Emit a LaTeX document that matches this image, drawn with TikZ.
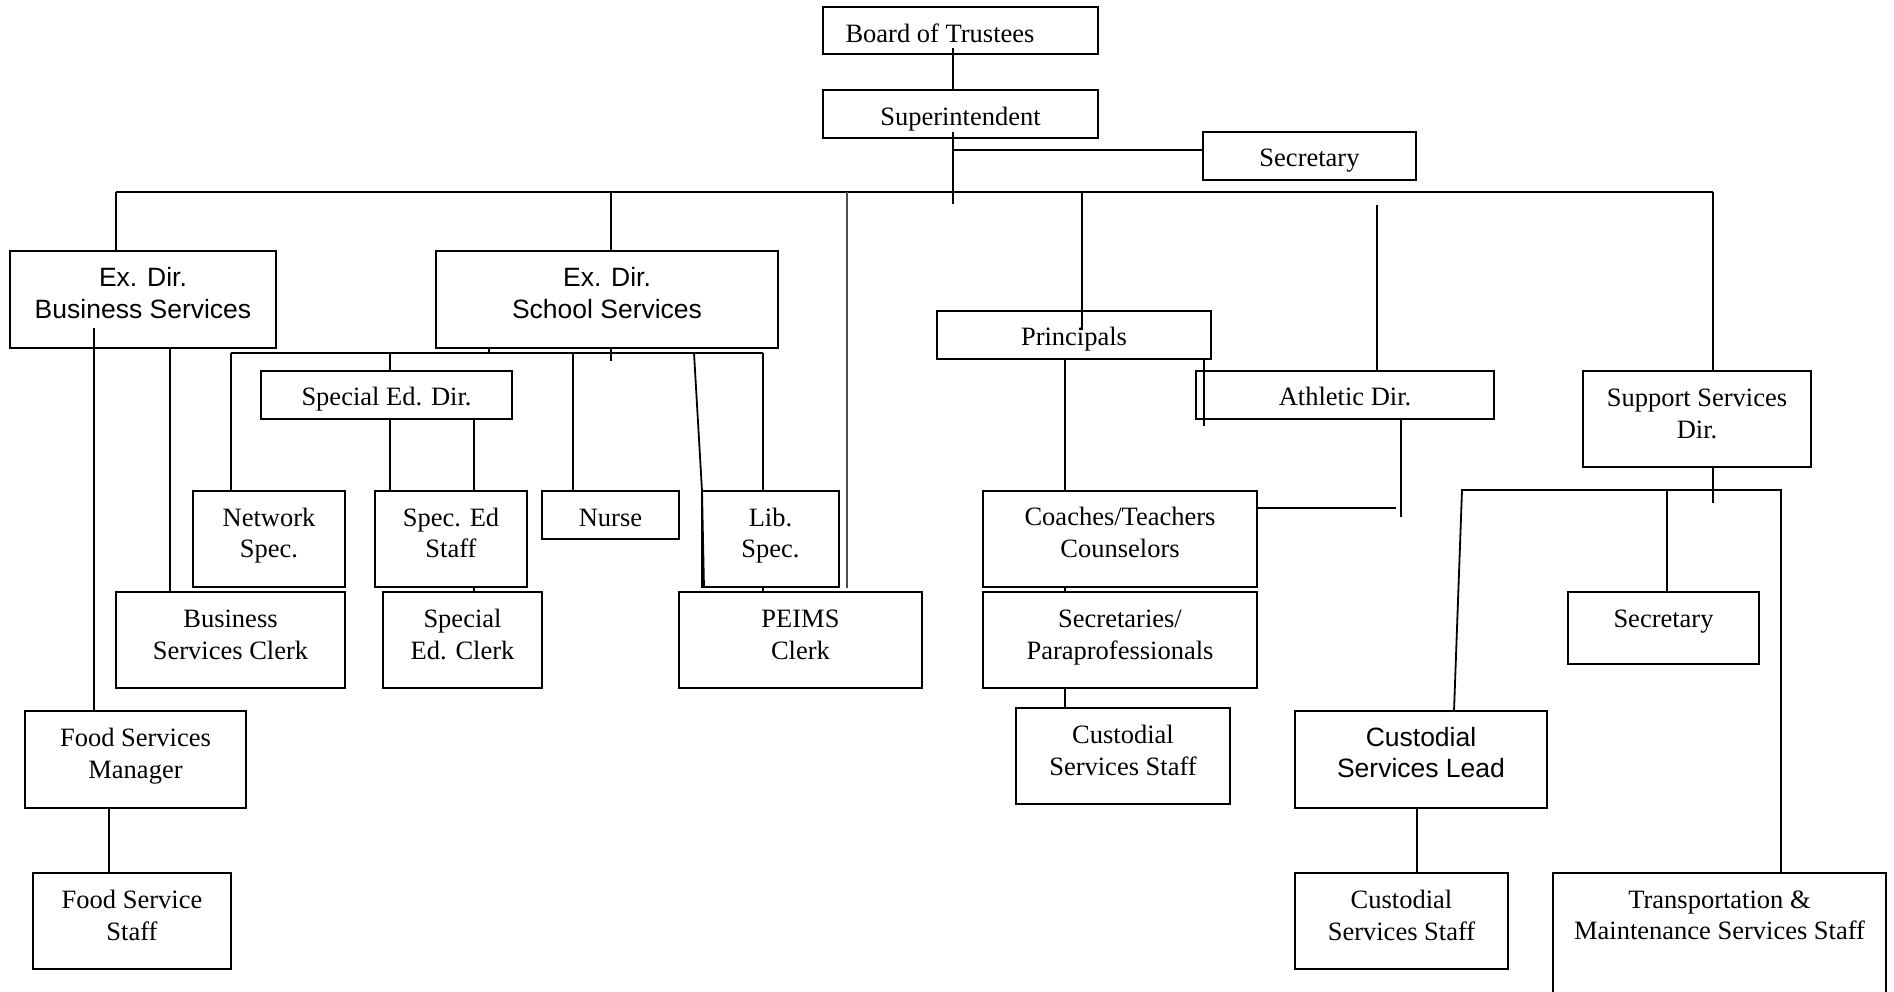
\documentclass[tikz,border=0pt]{standalone}
\usepackage{fontspec}
\setmainfont{Liberation Serif}
\newfontfamily\arialf{Liberation Sans}
\newcommand\tst{\rule{0pt}{24pt}}
\tikzset{
  box/.style={draw, line width=2.2pt, inner sep=0pt, outer sep=0pt, rectangle},
  boxline/.style={line width=2.2pt},
  tx/.style={align=center, inner sep=0pt, outer sep=0pt, anchor=north, font=\fontsize{26.5}{31.5}\selectfont},
  ar/.style={tx, font=\arialf\fontsize{26.5}{31.5}\selectfont},
  conn/.style={line width=1.8pt},
  busline/.style={line width=2.3pt},
  greyline/.style={line width=1.2pt, black!70}
}
\newcommand\bx[5]{\node[box, minimum width={#4-#2}, minimum height={#5-#3}, anchor=north west] (#1) at (#2,#3) {};}
\begin{document}
\begin{tikzpicture}[x=1pt,y=-1pt]
\useasboundingbox (0,0) rectangle (1894,992);
% ---------- boxes ----------
\bx{bot}{823}{7}{1098}{54}
\bx{sup}{823}{90}{1098}{138}
\bx{secA}{1203}{132}{1416}{180}
\bx{exb}{10}{251}{276}{348}
\bx{exs}{436}{251}{778}{348}
\bx{prin}{937}{311}{1211}{359}
\bx{ath}{1196}{371}{1494}{419}
\bx{ssd}{1583}{371}{1811}{467}
\bx{sedir}{261}{371}{512}{419}
\bx{net}{193}{491}{345}{587}
\bx{sestaff}{375}{491}{527}{587}
\bx{nurse}{542}{491}{679}{539}
\bx{lib}{702}{491}{839}{587}
\bx{bsc}{116}{592}{345}{688}
\bx{seclerk}{383}{592}{542}{688}
\bx{peims}{679}{592}{922}{688}
\bx{fsm}{25}{711}{246}{808}
\bx{fss}{33}{873}{231}{969}
\bx{coach}{983}{491}{1257}{587}
\bx{secpara}{983}{592}{1257}{688}
\bx{cssA}{1016}{708}{1230}{804}
\bx{secB}{1568}{592}{1759}{664}
\bx{csl}{1295}{711}{1547}{808}
\bx{cssB}{1295}{873}{1508}{969}
\node[inner sep=0pt, outer sep=0pt, minimum width=333, minimum height=122, anchor=north west] (trans) at (1553,873) {};
\draw[boxline] (trans.south west) -- (trans.north west) -- (trans.north east) -- (trans.south east);
% ---------- texts ----------
\node[tx] (botT) at ([xshift=-20.5pt,yshift=-11.5pt]bot.north) {\tst Board of Trustees};
\node[tx] (supT) at ([yshift=-11.5pt]sup.north) {\tst Superintendent};
\node[tx] (secAT) at ([yshift=-10.5pt]secA.north) {\tst Secretary};
\node[ar] (exbT) at ([yshift=-11.5pt]exb.north) {\tst Ex. Dir.\\Business Services};
\node[ar] (exsT) at ([yshift=-11.5pt]exs.north) {\tst Ex. Dir.\\School Services};
\node[tx] (prinT) at ([yshift=-10.5pt]prin.north) {\tst Principals};
\node[tx] (athT) at ([yshift=-10.5pt]ath.north) {\tst Athletic Dir.};
\node[tx] (ssdT) at ([yshift=-11.5pt]ssd.north) {\tst Support Services\\Dir.};
\node[tx] (sedirT) at ([yshift=-10.5pt]sedir.north) {\tst Special Ed. Dir.};
\node[tx] (netT) at ([yshift=-11pt]net.north) {\tst Network\\Spec.};
\node[tx] (sestaffT) at ([yshift=-11pt]sestaff.north) {\tst Spec. Ed\\Staff};
\node[tx] (nurseT) at ([yshift=-11pt]nurse.north) {\tst Nurse};
\node[tx] (libT) at ([yshift=-11pt]lib.north) {\tst Lib.\\Spec.};
\node[tx] (bscT) at ([yshift=-11.5pt]bsc.north) {\tst Business\\Services Clerk};
\node[tx] (seclerkT) at ([yshift=-11.5pt]seclerk.north) {\tst Special\\Ed. Clerk};
\node[tx] (peimsT) at ([yshift=-11.5pt]peims.north) {\tst PEIMS\\Clerk};
\node[tx] (fsmT) at ([yshift=-11.5pt]fsm.north) {\tst Food Services\\Manager};
\node[tx] (fssT) at ([yshift=-11.5pt]fss.north) {\tst Food Service\\Staff};
\node[tx] (coachT) at ([yshift=-10.5pt]coach.north) {\tst Coaches/Teachers\\Counselors};
\node[tx] (secparaT) at ([yshift=-11.5pt]secpara.north) {\tst Secretaries/\\Paraprofessionals};
\node[tx] (cssAT) at ([yshift=-11.5pt]cssA.north) {\tst Custodial\\Services Staff};
\node[tx] (secBT) at ([yshift=-11.5pt]secB.north) {\tst Secretary};
\node[ar] (cslT) at ([yshift=-11pt]csl.north) {\tst Custodial\\Services Lead};
\node[tx] (cssBT) at ([yshift=-11.5pt]cssB.north) {\tst Custodial\\Services Staff};
\node[tx] (transT) at ([yshift=-11pt]trans.north) {\tst Transportation \&\\Maintenance Services Staff};
% ---------- top connectors ----------
\coordinate (supEnd) at (953,204);
\draw[conn] ([xshift=-7.5pt,yshift=6pt]bot.south) -- ([xshift=-7.5pt]sup.north);
\draw[conn] ([xshift=-7.5pt,yshift=6pt]sup.south) -- (supEnd);
\coordinate (secL) at ([yshift=6pt]secA.west);
\draw[conn] (supEnd |- secL) -- (secL);
% main bus
\coordinate (b1) at (116,192);
\coordinate (b2) at (611,192);
\coordinate (b3) at (847,192);
\coordinate (b4) at (1082,192);
\coordinate (b5) at (1713,192);
\draw[busline] (b1) -- (b5);
\draw[conn] (b1) -- (b1 |- exb.north);
\draw[conn] (b2) -- (b2 |- exs.north);
\draw[greyline] (b3) -- ([yshift=4pt]b3 |- peims.north);
\draw[conn] (b4) -- ([yshift=-19pt]b4 |- prin.north);
\draw[conn] (b5) -- (b5 |- ssd.north);
\coordinate (a1) at (1377,205);
\draw[conn] (a1) -- (a1 |- ath.north);
% ---------- business services ----------
\coordinate (e1) at (94,328);
\draw[conn] (e1) -- (e1 |- fsm.north);
\coordinate (e2) at (170,0);
\draw[conn] (e2 |- exb.south) -- (e2 |- bsc.north);
\coordinate (f1) at (109,0);
\draw[conn] (f1 |- fsm.south) -- (f1 |- fss.north);
% ---------- school services ----------
\coordinate (s1) at (231,353);
\coordinate (s2) at (763,353);
\draw[conn] (s1) -- (s2);
\draw[conn] (s1) -- (s1 |- net.north);
\draw[conn] (s2) -- (s2 |- lib.north);
\draw[conn] (s2 |- lib.south) -- (s2 |- peims.north);
\coordinate (s3) at (489,353);
\draw[conn] (s3 |- exs.south) -- (s3);
\coordinate (s4) at (611,361);
\draw[conn] (s4 |- exs.south) -- (s4);
\coordinate (s5) at (390,353);
\draw[conn] (s5) -- (s5 |- sedir.north);
\draw[conn] (s5 |- sedir.south) -- (s5 |- sestaff.north);
\coordinate (s9) at (474,0);
\draw[conn] (s9 |- sedir.south) -- (s9 |- sestaff.north);
\draw[conn] (s9 |- sestaff.south) -- (s9 |- seclerk.north);
\coordinate (s6) at (573,353);
\draw[conn] (s6) -- (s6 |- nurse.north);
\coordinate (s7) at (694,353);
\draw[conn] (s7) -- (lib.north west) -- ([xshift=2pt,yshift=4pt]lib.south west |- peims.north);
% ---------- principals / athletics ----------
\coordinate (p1) at (1065,0);
\draw[conn] (p1 |- prin.south) -- (p1 |- coach.north);
\draw[conn] (p1 |- coach.south) -- (p1 |- secpara.north);
\draw[conn] (p1 |- secpara.south) -- (p1 |- cssA.north);
\coordinate (p2) at (1204,426);
\draw[conn] (p2 |- prin.south) -- (p2);
\coordinate (a2) at (1401,517);
\draw[conn] (a2 |- ath.south) -- (a2);
\coordinate (a3) at (1396,508);
\draw[conn] (a3 -| coach.east) -- (a3);
% ---------- support services ----------
\coordinate (u1) at (1713,503);
\draw[conn] (u1 |- ssd.south) -- (u1);
\coordinate (u2) at (1462,490);
\coordinate (u3) at (1781,490);
\draw[conn] ([xshift=-8pt]u2 |- csl.north) -- (u2) -- (u3) -- (u3 |- trans.north);
\coordinate (u4) at (1667,490);
\draw[conn] (u4) -- (u4 |- secB.north);
\coordinate (c1) at (1417,0);
\draw[conn] (c1 |- csl.south) -- (c1 |- cssB.north);
\end{tikzpicture}
\end{document}
